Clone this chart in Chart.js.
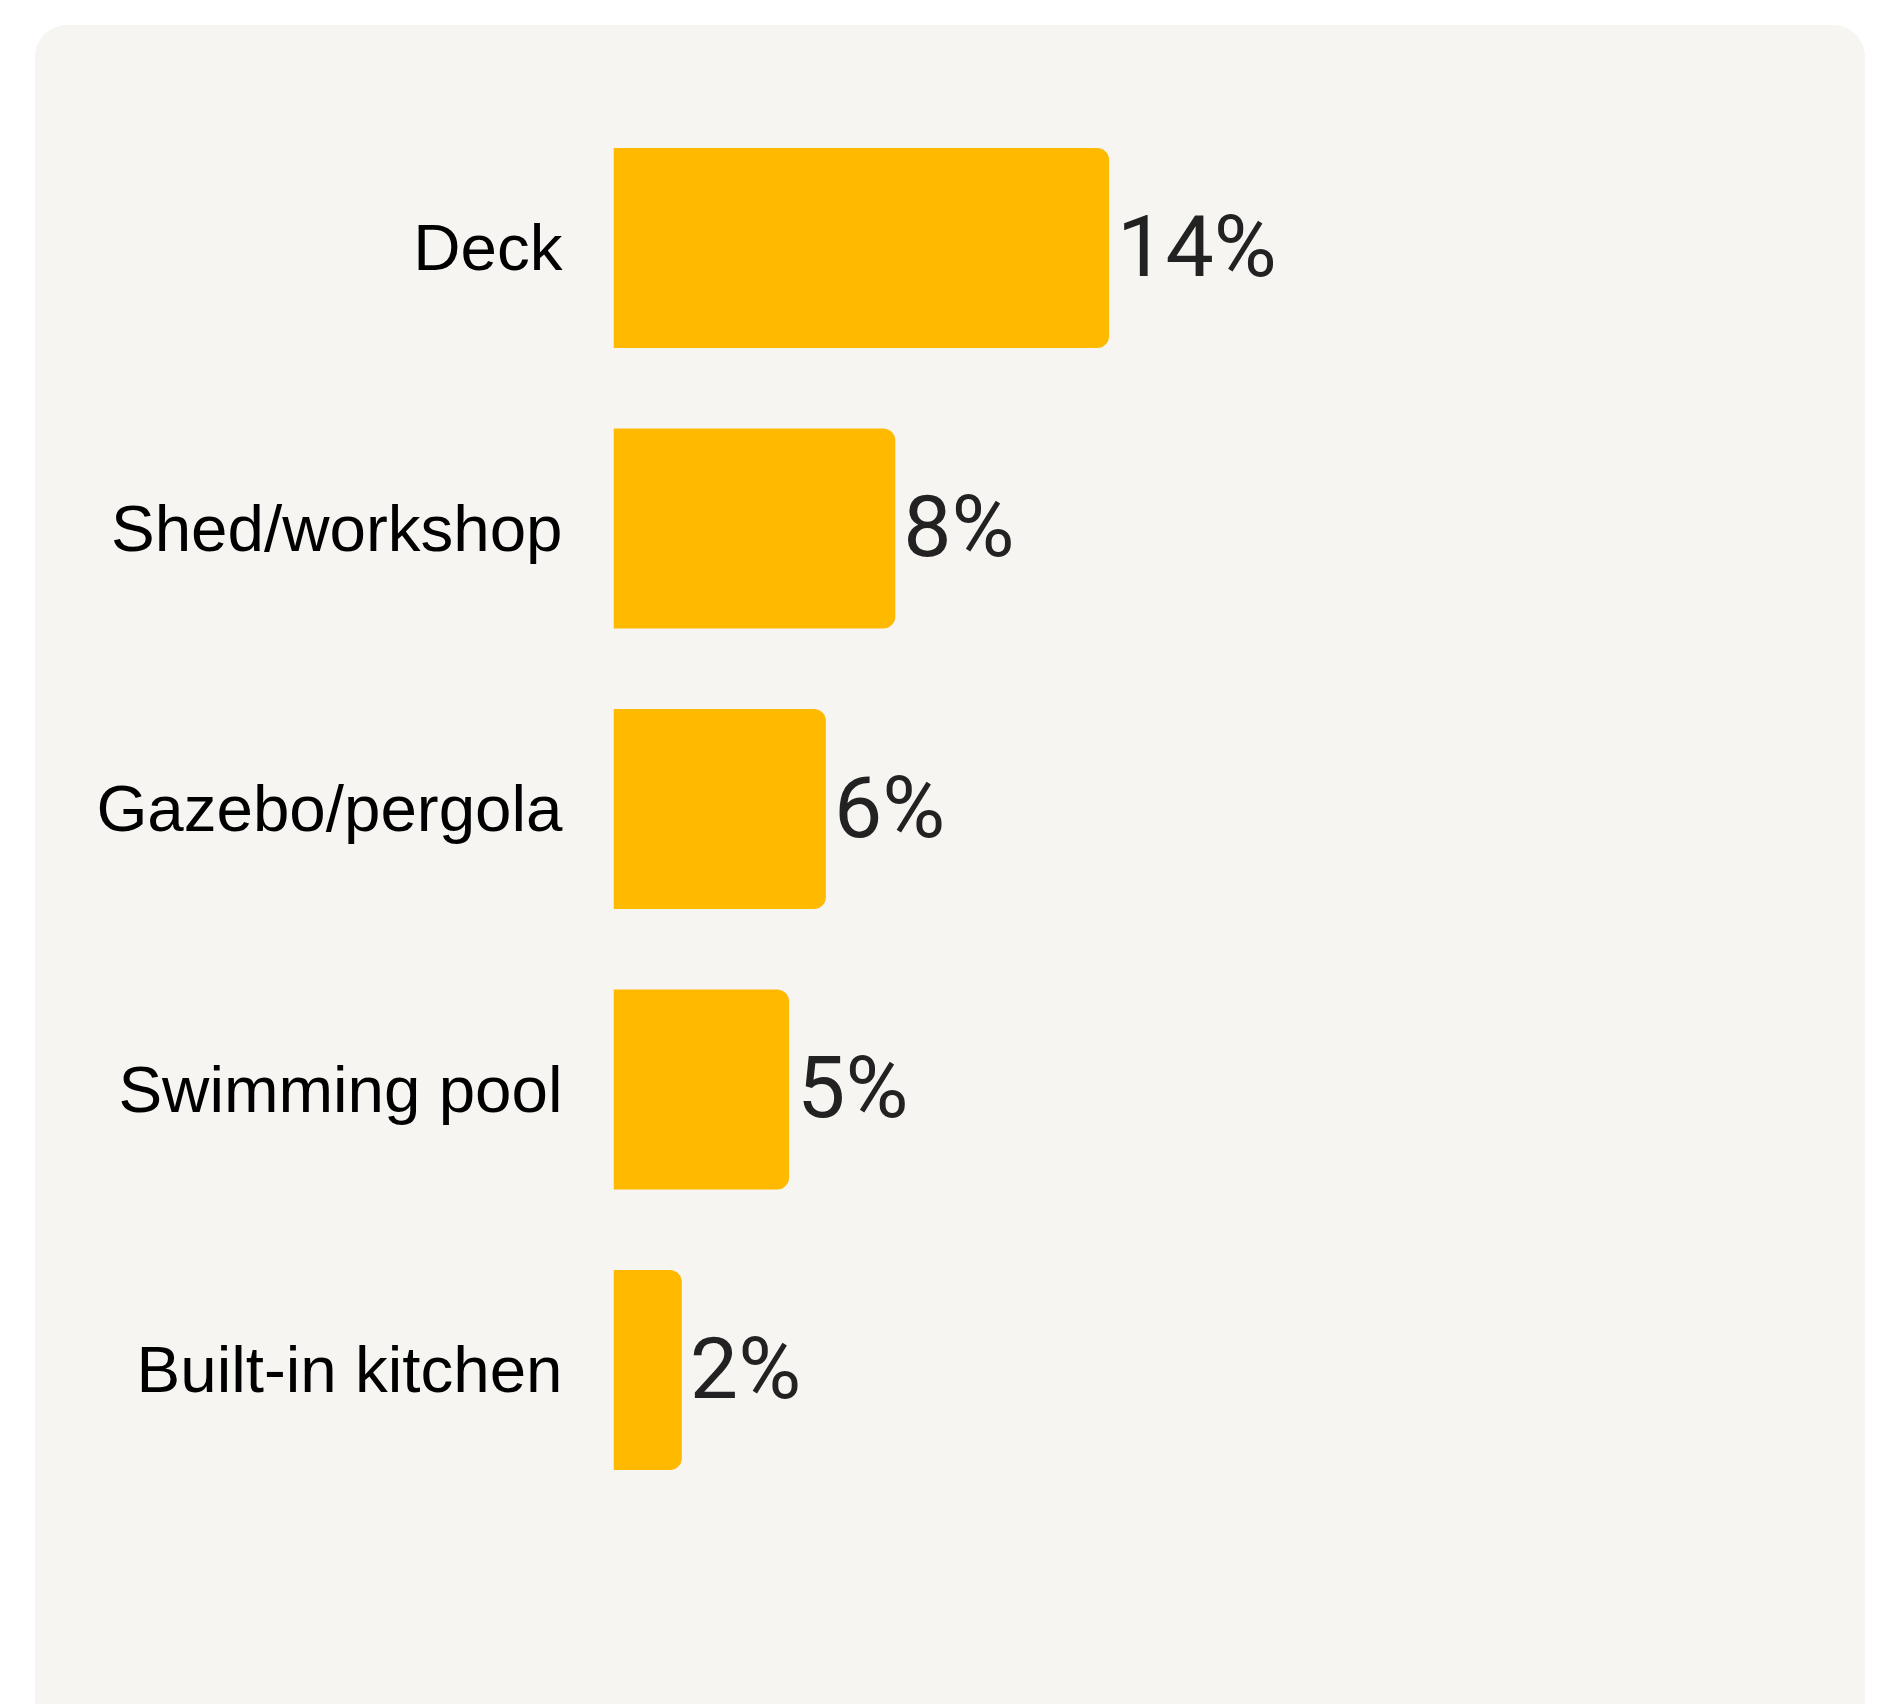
<!DOCTYPE html>
<html>
<head>
<meta charset="utf-8">
<script src="https://cdn.jsdelivr.net/npm/chart.js@4"></script>
<style>
  html, body { margin: 0; padding: 0; background: #ffffff; }
  #wrap { width: 1890px; height: 1704px; }
</style>
</head>
<body>
<div id="wrap"><canvas id="c" width="1890" height="1704"></canvas></div>
<script>
const categories = ["Deck", "Shed/workshop", "Gazebo/pergola", "Swimming pool", "Built-in kitchen"];
const values = [14, 7.96, 6.0, 4.96, 1.93];
const valueLabels = ["14%", "8%", "6%", "5%", "2%"];
const xMax = 35;

const cardBackground = {
  id: 'cardBackground',
  beforeDraw(chart) {
    const ctx = chart.ctx;
    ctx.save();
    ctx.fillStyle = '#ffffff';
    ctx.fillRect(0, 0, chart.width, chart.height);
    ctx.fillStyle = '#f6f5f2';
    ctx.beginPath();
    ctx.roundRect(35, 25, 1830, 1760, 32);
    ctx.fill();
    ctx.restore();
  }
};

const valueLabelPlugin = {
  id: 'valueLabels',
  afterDatasetsDraw(chart) {
    const ctx = chart.ctx;
    const meta = chart.getDatasetMeta(0);
    ctx.save();
    ctx.fillStyle = '#222222';
    ctx.font = '400 86px Roboto';
    ctx.textAlign = 'left';
    ctx.textBaseline = 'middle';
    meta.data.forEach((bar, i) => {
      ctx.fillText(valueLabels[i], bar.x + 8, bar.y + 6);
    });
    ctx.restore();
  }
};

new Chart(document.getElementById('c'), {
  type: 'bar',
  data: {
    labels: categories,
    datasets: [{
      data: values,
      backgroundColor: '#ffba00',
      borderWidth: 0,
      borderRadius: 12,
      borderSkipped: 'start',
      barPercentage: 0.713,
      categoryPercentage: 1.0
    }]
  },
  options: {
    indexAxis: 'y',
    responsive: false,
    devicePixelRatio: 1,
    animation: false,
    layout: { padding: { left: 0, right: 37.5, top: 107.75, bottom: 193.75 } },
    plugins: {
      legend: { display: false },
      tooltip: { enabled: false },
      title: { display: false }
    },
    scales: {
      x: {
        display: false,
        min: 0,
        max: xMax,
        grid: { display: false }
      },
      y: {
        grid: { display: false, drawTicks: false },
        border: { display: false },
        ticks: {
          color: '#000000',
          padding: 51,
          labelOffset: 4,
          font: { family: '"Liberation Sans", Arial, sans-serif', size: 65.5 }
        },
        afterFit(scale) { scale.width = 613.5; }
      }
    }
  },
  plugins: [cardBackground, valueLabelPlugin]
});
</script>
</body>
</html>
